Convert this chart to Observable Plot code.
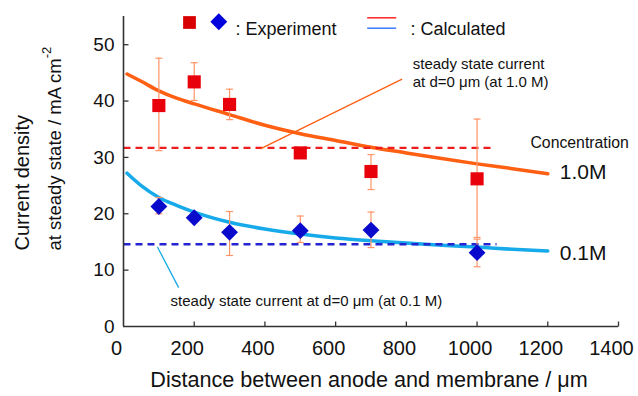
<!DOCTYPE html>
<html><head><meta charset="utf-8">
<script src="https://cdn.jsdelivr.net/npm/d3@7"></script>
<script src="https://cdn.jsdelivr.net/npm/@observablehq/plot@0.6"></script>
<style>
html,body{margin:0;padding:0;background:#fff;}
#chart{width:638px;height:396px;}
</style></head><body><div id="chart"></div>
<script>
// ---- data ----
const distance = [100, 200, 300, 500, 700, 1000];
const exp1M = [39.2, 43.4, 39.4, 30.8, 27.5, 26.2];
const exp1MHigh = [47.6, 46.8, 42.1, null, 30.5, 36.8];
const exp1MLow = [31.2, 40.1, 36.7, null, 24.3, 15.8];
const exp01M = [21.3, 19.3, 16.7, 17.0, 17.1, 13.1];
const exp01MHigh = [22.9, null, 20.4, 19.6, 20.3, 15.5];
const exp01MLow = [20.0, null, 12.6, 14.9, 14.0, 10.6];
const calcDistance = [10, 50, 100, 150, 200, 300, 400, 500, 600, 700, 800, 900, 1000, 1100, 1200];
const calc1M = [44.8, 43.5, 41.8, 40.5, 39.5, 37.6, 35.7, 34.2, 33.0, 31.8, 30.8, 29.8, 28.85, 28.0, 27.1];
const calc01M = [27.2, 25.0, 22.9, 21.5, 20.3, 18.5, 17.3, 16.4, 15.7, 15.2, 14.8, 14.4, 14.1, 13.7, 13.4];
const steadyState = [31.7, 14.6];          // 1.0 M, 0.1 M at d = 0
const steadyStart = [0, 0];
const steadyEnd = [1045, 1055];
const concLabels = ["1.0M", "0.1M"];
const concLabelY = [27.4, 13.0];
const xTicks = [0, 200, 400, 600, 800, 1000, 1200, 1400];
const yTicks = [0, 10, 20, 30, 40, 50];
// annotation leader lines (data units)
const leaderX1 = [387, 96], leaderY1 = [31.5, 14.1];
const leaderX2 = [788, 156], leaderY2 = [43.9, 6.9];

// ---- tables ----
const exp = distance.map((d, i) => ({d, v1: exp1M[i], h1: exp1MHigh[i], l1: exp1MLow[i], v01: exp01M[i], h01: exp01MHigh[i], l01: exp01MLow[i]}));
const err1 = exp.filter(e => e.h1 != null);
const err01 = exp.filter(e => e.h01 != null);
const calc = calcDistance.map((d, i) => ({d, c1: calc1M[i], c01: calc01M[i]}));
const steady = steadyState.map((v, i) => ({v, x1: steadyStart[i], x2: steadyEnd[i]}));
const leaders = leaderX1.map((x, i) => ({x1: x, y1: leaderY1[i], x2: leaderX2[i], y2: leaderY2[i]}));
const concs = concLabels.map((t, i) => ({t, y: concLabelY[i]}));

const tickUp = {draw(c){c.moveTo(0,0);c.lineTo(0,-5);}};
const tickRight = {draw(c){c.moveTo(0,0);c.lineTo(5,0);}};
const cap = {draw(c){c.moveTo(-3.5,0);c.lineTo(3.5,0);}};
const legendLine = {draw(c){c.moveTo(0,0);c.lineTo(29,0);}};

const FONT = "'Liberation Sans', Arial, Helvetica, sans-serif";
const ORANGE = "#ff5f12", LBLUE = "#17aaea", RED = "#e8000b", BLUE = "#0a0acc", ERR = "#ff9466";

const chart = Plot.plot({
  width: 638, height: 396,
  marginLeft: 123, marginRight: 20, marginTop: 16, marginBottom: 70,
  x: {domain: [0, 1400]},
  y: {domain: [0, 55]},
  style: {fontFamily: FONT, background: "white", color: "#111"},
  marks: [
    // calculated curves
    Plot.line(calc, {x: "d", y: "c1", stroke: ORANGE, strokeWidth: 3.5, curve: "monotone-x"}),
    Plot.line(calc, {x: "d", y: "c01", stroke: LBLUE, strokeWidth: 3.5, curve: "monotone-x"}),
    // steady state at d=0 (dashed)
    Plot.link(steady, {x1: "x1", x2: "x2", y1: "v", y2: "v", stroke: (d, i) => i === 0 ? "#ee1c1c" : "#2424d0", strokeWidth: 2.4, strokeDasharray: "7,5"}),
    // leader lines
    Plot.link(leaders, {x1: "x1", y1: "y1", x2: "x2", y2: "y2", stroke: (d, i) => i === 0 ? ORANGE : LBLUE, strokeWidth: 1.3}),
    // error bars
    Plot.ruleX(err1, {x: "d", y1: "l1", y2: "h1", stroke: ERR, strokeWidth: 1.2}),
    Plot.dot(err1, {x: "d", y: "h1", symbol: cap, stroke: ERR, fill: "none", strokeWidth: 1.2}),
    Plot.dot(err1, {x: "d", y: "l1", symbol: cap, stroke: ERR, fill: "none", strokeWidth: 1.2}),
    Plot.ruleX(err01, {x: "d", y1: "l01", y2: "h01", stroke: ERR, strokeWidth: 1.2}),
    Plot.dot(err01, {x: "d", y: "h01", symbol: cap, stroke: ERR, fill: "none", strokeWidth: 1.2}),
    Plot.dot(err01, {x: "d", y: "l01", symbol: cap, stroke: ERR, fill: "none", strokeWidth: 1.2}),
    // experiment markers
    Plot.dot(exp, {x: "d", y: "v1", symbol: "square", r: 7.4, fill: RED, stroke: "none"}),
    Plot.dot(exp, {x: "d", y: "v01", symbol: "diamond2", r: 7.6, fill: BLUE, stroke: "none"}),
    // axes
    Plot.ruleX([0], {stroke: "#333", strokeWidth: 1.6}),
    Plot.ruleY([0], {stroke: "#333", strokeWidth: 1.6}),
    Plot.dot(xTicks.slice(1), {x: d => d, frameAnchor: "bottom", symbol: tickUp, stroke: "#333", fill: "none", strokeWidth: 1.3}),
    Plot.dot(yTicks.slice(1), {y: d => d, frameAnchor: "left", symbol: tickRight, stroke: "#333", fill: "none", strokeWidth: 1.3}),
    Plot.axisX({ticks: xTicks, tickFormat: d => String(d), tickSize: 0, tickPadding: 14, fontSize: 20, dx: -7, label: null}),
    Plot.axisY({ticks: yTicks, tickFormat: d => String(d), tickSize: 0, tickPadding: 9, fontSize: 19, label: null}),
    // axis titles
    Plot.text(["Distance between anode and membrane / \u03bcm"], {frameAnchor: "bottom", dy: 60, dx: -2, fontSize: 21.6, fill: "#111"}),
    Plot.text(["Current density"], {frameAnchor: "left", rotate: -90, textAnchor: "start", lineAnchor: "bottom", dx: -95, dy: 79, fontSize: 20, fill: "#111"}),
    Plot.text(["at steady state / mA cm"], {frameAnchor: "left", rotate: -90, textAnchor: "start", lineAnchor: "bottom", dx: -63, dy: 79, fontSize: 18.5, fill: "#111"}),
    // annotations
    Plot.text(["steady state current\nat d=0 \u03bcm (at 1.0 M)"], {x: 818, y: 45.15, textAnchor: "start", lineHeight: 1.23, fontSize: 15, fill: "#111"}),
    Plot.text(["steady state current at d=0 \u03bcm (at 0.1 M)"], {x: 133, y: 4.43, textAnchor: "start", fontSize: 15, fill: "#111"}),
    Plot.text(["Concentration"], {x: 1151, y: 32.5, textAnchor: "start", fontSize: 15.8, fill: "#111"}),
    Plot.text(concs, {x: 1234, y: "y", text: "t", textAnchor: "start", fontSize: 21, fill: "#111"}),
    // legend
    Plot.dot([0], {x: null, y: null, frameAnchor: "top-left", dx: 66, dy: 6, symbol: "square", r: 7.2, fill: "#d80000", stroke: "none"}),
    Plot.dot([0], {x: null, y: null, frameAnchor: "top-left", dx: 95.3, dy: 5.3, symbol: "diamond2", r: 7.6, fill: "#0000dd", stroke: "none"}),
    Plot.text([": Experiment"], {frameAnchor: "top-left", dx: 112, dy: 5.7, textAnchor: "start", fontSize: 18, fill: "#111"}),
    Plot.dot([0], {x: null, y: null, frameAnchor: "top-left", dx: 243.7, dy: 1.3, symbol: legendLine, stroke: "#ff2424", fill: "none", strokeWidth: 1.5}),
    Plot.dot([0], {x: null, y: null, frameAnchor: "top-left", dx: 243.7, dy: 11.7, symbol: legendLine, stroke: "#3a7bff", fill: "none", strokeWidth: 1.5}),
    Plot.text([": Calculated"], {frameAnchor: "top-left", dx: 287, dy: 5.7, textAnchor: "start", fontSize: 18, fill: "#111"})
  ]
});
// superscript on the y title
chart.querySelectorAll("text").forEach(t => {
  if (t.textContent === "at steady state / mA cm") {
    const ts = document.createElementNS("http://www.w3.org/2000/svg", "tspan");
    ts.setAttribute("dy", "-0.75em");
    ts.setAttribute("font-size", "13");
    ts.textContent = "-2";
    t.appendChild(ts);
  }
});
document.getElementById("chart").appendChild(chart);
</script></body></html>
